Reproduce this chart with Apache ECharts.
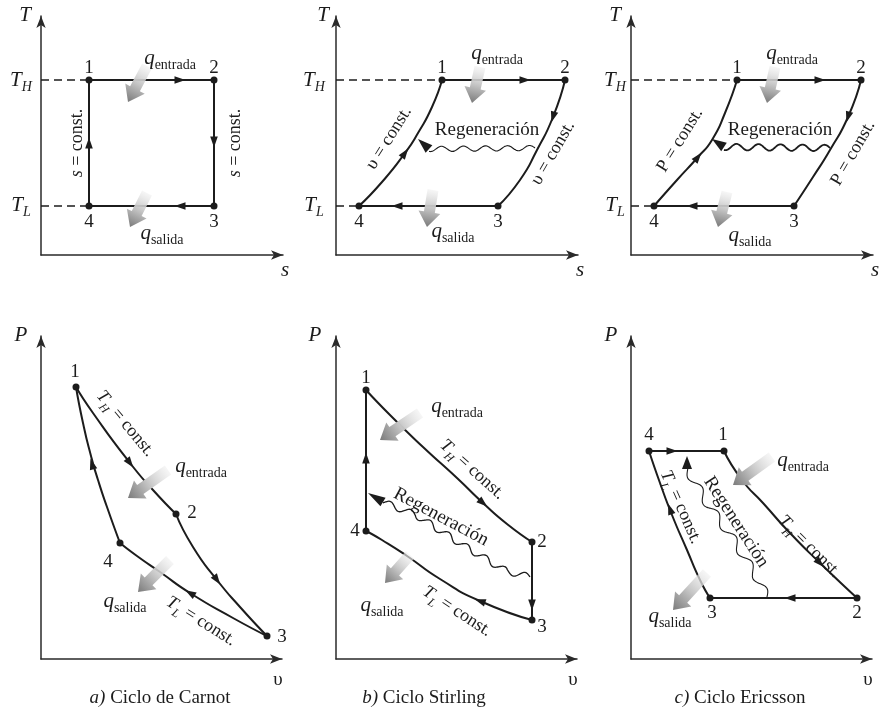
<!DOCTYPE html>
<html>
<head>
<meta charset="utf-8">
<script src="https://cdn.jsdelivr.net/npm/echarts@6/dist/echarts.min.js"></script>
<style>
  html, body { margin: 0; background: #fff; }
  #main { width: 880px; height: 711px; }
</style>
</head>
<body>
<div id="main"></div>
<script>
var FONT = '"Liberation Serif", "DejaVu Serif", serif';
var INK = '#1c1c1c';

// ---- a) Carnot, T-s ----
var carnotTsStates = [[4.8, 17.5], [17.3, 17.5], [17.3, 4.9], [4.8, 4.9]];
var carnotTsPaths = [
    [[4.8, 17.5], [17.3, 17.5]],
    [[17.3, 17.5], [17.3, 4.9]],
    [[17.3, 4.9], [4.8, 4.9]],
    [[4.8, 4.9], [4.8, 17.5]]
];
var carnotTsGuides = [[[0, 17.5], [4.8, 17.5]], [[0, 4.9], [4.8, 4.9]]];
var carnotTsArrows = [
    [[12.9, 17.5], [13.9, 17.5]], [[17.3, 12.3], [17.3, 11.3]],
    [[14.9, 4.9], [13.9, 4.9]], [[4.8, 10.2], [4.8, 11.2]]
];
var carnotTsHeat = [[[10.6, 18.9], [8.7, 15.3]], [[10.6, 6.2], [8.9, 2.8]]];
var carnotTsLabels = [
    [-1.6, 24.0, 'T'], [-2.0, 17.3, 'TH'], [-2.0, 4.8, 'TL'], [24.4, -1.5, 's'],
    [4.8, 18.7, 'n1'], [17.3, 18.7, 'n2'], [17.3, 3.3, 'n3'], [4.8, 3.3, 'n4'],
    [12.9, 19.5, 'qin'], [12.1, 2.0, 'qout'],
    [3.6, 11.2, 'sConst', 90], [19.4, 11.2, 'sConst', 90]
];

// ---- b) Stirling, T-s ----
var stirlingTsStates = [[10.6, 17.5], [22.9, 17.5], [16.2, 4.9], [2.3, 4.9]];
var stirlingTsPaths = [
    [[10.6, 17.5], [22.9, 17.5]],
    [[22.9, 17.5], [21.7, 13.8], [20.1, 10.5], [18.4, 7.5], [16.2, 4.9]],
    [[16.2, 4.9], [2.3, 4.9]],
    [[2.3, 4.9], [4.6, 7.3], [6.9, 10.2], [8.2, 12.2], [9.6, 14.8], [10.6, 17.5]]
];
var stirlingTsGuides = [[[0, 17.5], [10.6, 17.5]], [[0, 4.9], [2.3, 4.9]]];
var stirlingTsArrows = [
    [[17.9, 17.5], [18.9, 17.5]], [[22.0, 14.8], [21.7, 13.8]],
    [[7.1, 4.9], [6.1, 4.9]], [[6.1, 9.1], [6.9, 10.2]]
];
var stirlingTsWaves = [{ path: [[19.9, 10.7], [9.3, 10.6]], tip: [8.2, 11.6] }];
var stirlingTsHeat = [[[14.4, 18.8], [13.6, 15.2]], [[9.7, 6.5], [9.1, 2.8]]];
var stirlingTsLabels = [
    [-1.3, 24.0, 'T'], [-2.2, 17.3, 'TH'], [-2.2, 4.8, 'TL'], [24.4, -1.5, 's'],
    [10.6, 18.7, 'n1'], [22.9, 18.7, 'n2'], [16.2, 3.3, 'n3'], [2.3, 3.3, 'n4'],
    [16.1, 20.0, 'qin'], [11.7, 2.2, 'qout'], [15.1, 12.5, 'regen'],
    [5.3, 11.7, 'vConst', 58], [21.7, 10.2, 'vConst', 60]
];

// ---- c) Ericsson, T-s ----
var ericssonTsStates = [[10.6, 17.5], [23.0, 17.5], [16.3, 4.9], [2.3, 4.9]];
var ericssonTsPaths = [
    [[10.6, 17.5], [23.0, 17.5]],
    [[23.0, 17.5], [21.7, 13.8], [19.9, 10.5], [18.2, 7.8], [16.3, 4.9]],
    [[16.3, 4.9], [2.3, 4.9]],
    [[2.3, 4.9], [4.6, 7.5], [6.7, 9.8], [8.1, 11.5], [9.4, 14.2], [10.6, 17.5]]
];
var ericssonTsGuides = [[[0, 17.5], [10.6, 17.5]], [[0, 4.9], [2.3, 4.9]]];
var ericssonTsArrows = [
    [[17.9, 17.5], [18.9, 17.5]], [[22.0, 14.8], [21.7, 13.8]],
    [[7.1, 4.9], [6.1, 4.9]], [[5.9, 8.8], [6.7, 9.8]]
];
var ericssonTsWaves = [{ path: [[19.9, 10.7], [9.3, 10.8]], tip: [8.1, 11.6] }];
var ericssonTsHeat = [[[14.4, 18.8], [13.6, 15.2]], [[9.6, 6.3], [8.7, 2.8]]];
var ericssonTsLabels = [
    [-1.6, 24.0, 'T'], [-1.6, 17.3, 'TH'], [-1.6, 4.8, 'TL'], [24.4, -1.5, 's'],
    [10.6, 18.7, 'n1'], [23.0, 18.7, 'n2'], [16.3, 3.3, 'n3'], [2.3, 3.3, 'n4'],
    [16.1, 20.0, 'qin'], [11.9, 1.8, 'qout'], [14.9, 12.5, 'regen'],
    [4.9, 11.5, 'PConst', 58], [22.2, 10.2, 'PConst', 60]
];

// ---- a) Carnot, P-v ----
var carnotPvStates = [[3.5, 27.2], [13.5, 14.5], [22.6, 2.3], [7.9, 11.6]];
var carnotPvPaths = [
    [[3.5, 27.2], [5.2, 24.6], [8.9, 19.6], [11.2, 16.9], [13.5, 14.5]],
    [[13.5, 14.5], [15.2, 11.2], [17.6, 7.9], [19.9, 5.2], [22.6, 2.3]],
    [[22.6, 2.3], [19.2, 4.1], [14.9, 6.6], [11.9, 8.7], [9.6, 10.3], [7.9, 11.6]],
    [[7.9, 11.6], [6.6, 15.2], [5.7, 17.9], [5.0, 20.3], [4.2, 23.6], [3.5, 27.2]]
];
var carnotPvArrows = [
    [[8.3, 20.4], [8.9, 19.6]], [[17.1, 8.6], [17.6, 7.9]],
    [[15.9, 6.0], [14.9, 6.6]], [[5.4, 18.5], [5.1, 19.5]]
];
var carnotPvHeat = [[[12.7, 18.9], [8.7, 16.1]], [[12.9, 9.9], [9.7, 6.7]]];
var carnotPvLabels = [
    [-2.0, 32.4, 'P'], [23.7, -2.1, 'v'],
    [3.4, 28.7, 'n1'], [15.1, 14.6, 'n2'], [24.1, 2.2, 'n3'], [6.7, 9.7, 'n4'],
    [16.0, 19.1, 'qin'], [8.4, 5.6, 'qout'],
    [8.3, 23.4, 'THconst', -50], [15.9, 3.6, 'TLconst', -32]
];

// ---- b) Stirling, P-v ----
var stirlingPvStates = [[3.0, 26.9], [19.6, 11.7], [19.6, 3.9], [3.0, 12.8]];
var stirlingPvPaths = [
    [[3.0, 26.9], [5.4, 24.4], [8.7, 21.2], [12.1, 18.1], [14.7, 15.6], [17.1, 13.5], [19.6, 11.7]],
    [[19.6, 11.7], [19.6, 3.9]],
    [[19.6, 3.9], [14.4, 5.8], [10.4, 8.0], [7.1, 10.3], [4.6, 11.9], [3.0, 12.8]],
    [[3.0, 12.8], [3.0, 26.9]]
];
var stirlingPvArrows = [
    [[13.9, 16.3], [14.7, 15.6]], [[19.6, 6.4], [19.6, 5.4]],
    [[15.4, 5.45], [14.4, 5.8]], [[3.0, 19.1], [3.0, 20.1]]
];
var stirlingPvWaves = [{ path: [[19.4, 8.2], [17.0, 8.8], [13.0, 11.2], [8.0, 14.4], [4.7, 15.7]], tip: [3.2, 16.6] }];
var stirlingPvHeat = [[[8.4, 24.6], [4.4, 21.9]], [[7.4, 10.4], [4.9, 7.6]]];
var stirlingPvLabels = [
    [-2.1, 32.4, 'P'], [23.7, -2.1, 'v'],
    [3.0, 28.1, 'n1'], [20.6, 11.7, 'n2'], [20.6, 3.2, 'n3'], [1.9, 12.8, 'n4'],
    [12.1, 25.1, 'qin'], [4.6, 5.2, 'qout'],
    [13.5, 18.8, 'THconst', -42], [12.0, 4.6, 'TLconst', -33], [10.5, 14.2, 'regen', -28]
];

// ---- c) Ericsson, P-v ----
var ericssonPvStates = [[9.3, 20.8], [22.6, 6.1], [7.9, 6.1], [1.8, 20.8]];
var ericssonPvPaths = [
    [[9.3, 20.8], [11.1, 17.9], [13.2, 15.6], [15.9, 12.6], [18.9, 9.6], [22.6, 6.1]],
    [[22.6, 6.1], [7.9, 6.1]],
    [[7.9, 6.1], [6.9, 7.9], [5.6, 10.9], [4.1, 14.4], [2.9, 17.6], [1.8, 20.8]],
    [[1.8, 20.8], [9.3, 20.8]]
];
var ericssonPvArrows = [
    [[18.2, 10.3], [18.9, 9.6]], [[16.9, 6.1], [15.9, 6.1]],
    [[4.25, 14.0], [3.9, 15.0]], [[3.1, 20.8], [4.1, 20.8]]
];
var ericssonPvWaves = [{ path: [[13.6, 6.2], [12.4, 8.5], [10.2, 12.0], [7.6, 15.6], [5.6, 19.0]], tip: [5.6, 20.3] }];
var ericssonPvHeat = [[[14.1, 20.2], [10.2, 17.4]], [[7.6, 8.6], [4.2, 4.9]]];
var ericssonPvLabels = [
    [-2.0, 32.4, 'P'], [23.7, -2.1, 'v'],
    [1.8, 22.4, 'n4'], [9.2, 22.4, 'n1'], [22.6, 4.6, 'n2'], [8.1, 4.6, 'n3'],
    [17.2, 19.7, 'qin'], [3.9, 4.1, 'qout'],
    [17.7, 11.1, 'THconst', -45], [4.8, 15.1, 'TLconst', -66], [10.5, 13.7, 'regen', -57]
];

var captions = ['{i|a)} Ciclo de Carnot', '{i|b)} Ciclo Stirling', '{i|c)} Ciclo Ericsson'];

// rich text pieces
function tok(size, italic, padTop) {
    return {
        fontFamily: FONT, fontSize: size, fontStyle: italic ? 'italic' : 'normal',
        fill: INK, verticalAlign: 'top', padding: [padTop || 0, 0, 0, 0]
    };
}
var RICH = {
    it: tok(21, true), rm: tok(19, false), c: tok(18, false), ci: tok(18, true),
    sub: tok(14, true, 11), subc: tok(12, true, 10), subq: tok(14, false, 11)
};
var TEXTS = {
    T: '{it|T}', TH: '{it|T}{sub|H}', TL: '{it|T}{sub|L}', s: '{it|s}', P: '{it|P}', v: '{rm|υ}',
    n1: '{rm|1}', n2: '{rm|2}', n3: '{rm|3}', n4: '{rm|4}',
    qin: '{it|q}{subq|entrada}', qout: '{it|q}{subq|salida}',
    sConst: '{ci|s}{c| = const.}', vConst: '{c|υ = const.}', PConst: '{c|P = const.}',
    THconst: '{ci|T}{subc|H}{c| = const.}', TLconst: '{ci|T}{subc|L}{c| = const.}',
    regen: '{rm|Regeneración}'
};

var panels = [
    { left: 41, top: 16, states: carnotTsStates, paths: carnotTsPaths, guides: carnotTsGuides, arrows: carnotTsArrows, waves: [], heat: carnotTsHeat, labels: carnotTsLabels },
    { left: 336, top: 16, states: stirlingTsStates, paths: stirlingTsPaths, guides: stirlingTsGuides, arrows: stirlingTsArrows, waves: stirlingTsWaves, wave: [2.6, 22, 1.1], heat: stirlingTsHeat, labels: stirlingTsLabels },
    { left: 631, top: 16, states: ericssonTsStates, paths: ericssonTsPaths, guides: ericssonTsGuides, arrows: ericssonTsArrows, waves: ericssonTsWaves, wave: [3.2, 22, 1.8], heat: ericssonTsHeat, labels: ericssonTsLabels },
    { left: 41, top: 336, states: carnotPvStates, paths: carnotPvPaths, guides: [], arrows: carnotPvArrows, waves: [], heat: carnotPvHeat, labels: carnotPvLabels },
    { left: 336, top: 336, states: stirlingPvStates, paths: stirlingPvPaths, guides: [], arrows: stirlingPvArrows, waves: stirlingPvWaves, wave: [3.2, 22, 1.3], heat: stirlingPvHeat, labels: stirlingPvLabels },
    { left: 631, top: 336, states: ericssonPvStates, paths: ericssonPvPaths, guides: [], arrows: ericssonPvArrows, waves: ericssonPvWaves, wave: [4, 30, 1.1], heat: ericssonPvHeat, labels: ericssonPvLabels }
];

function renderHead(params, api) {
    var a = api.coord([api.value(0), api.value(1)]);
    var b = api.coord([api.value(2), api.value(3)]);
    var dx = b[0] - a[0], dy = b[1] - a[1], len = Math.hypot(dx, dy) || 1;
    var ux = dx / len, uy = dy / len, L = 11, W = 3.8;
    var tip = [b[0] + ux * L / 2, b[1] + uy * L / 2];
    var base = [b[0] - ux * L / 2, b[1] - uy * L / 2];
    return {
        type: 'polygon',
        shape: { points: [tip, [base[0] - uy * W, base[1] + ux * W], [base[0] + uy * W, base[1] - ux * W]] },
        style: { fill: INK }
    };
}

function renderHeat(params, api) {
    var a = api.coord([api.value(0), api.value(1)]);
    var b = api.coord([api.value(2), api.value(3)]);
    var dx = b[0] - a[0], dy = b[1] - a[1], len = Math.hypot(dx, dy) || 1;
    var ux = dx / len, uy = dy / len, nx = -uy, ny = ux;
    var hl = 15, sw = 5.5, hw = 11;
    var neck = [b[0] - ux * hl, b[1] - uy * hl];
    function p(o, k) { return [o[0] + nx * k, o[1] + ny * k]; }
    return {
        type: 'polygon',
        shape: { points: [p(a, sw), p(neck, sw), p(neck, hw), b, p(neck, -hw), p(neck, -sw), p(a, -sw)] },
        style: {
            fill: {
                type: 'linear', x: a[0], y: a[1], x2: b[0], y2: b[1], global: true,
                colorStops: [
                    { offset: 0, color: 'rgba(240,240,240,0.6)' },
                    { offset: 0.5, color: '#c4c4c4' },
                    { offset: 1, color: '#7a7a7a' }
                ]
            }
        }
    };
}

function waveRenderer(waves, cfg) {
    var amp = cfg[0], period = cfg[1], lw = cfg[2];
    return function (params, api) {
        var w = waves[params.dataIndex];
        var pts = w.path.map(function (q) { return api.coord(q); });
        var tip = api.coord(w.tip);
        var cum = [0], i;
        for (i = 1; i < pts.length; i++) {
            cum.push(cum[i - 1] + Math.hypot(pts[i][0] - pts[i - 1][0], pts[i][1] - pts[i - 1][1]));
        }
        var total = cum[cum.length - 1], out = [], j = 0;
        for (var d = 0; d <= total; d += 1) {
            while (j < pts.length - 2 && cum[j + 1] < d) j++;
            var seg = cum[j + 1] - cum[j] || 1, t = (d - cum[j]) / seg;
            var ux = (pts[j + 1][0] - pts[j][0]) / seg, uy = (pts[j + 1][1] - pts[j][1]) / seg;
            var off = amp * Math.sin(2 * Math.PI * d / period);
            out.push([pts[j][0] + (pts[j + 1][0] - pts[j][0]) * t - uy * off,
                      pts[j][1] + (pts[j + 1][1] - pts[j][1]) * t + ux * off]);
        }
        var end = pts[pts.length - 1];
        var hx = tip[0] - end[0], hy = tip[1] - end[1], hl = Math.hypot(hx, hy) || 1;
        var nx = -hy / hl * 5, ny = hx / hl * 5;
        return {
            type: 'group',
            children: [
                { type: 'polyline', shape: { points: out, smooth: 0.3 }, style: { stroke: INK, lineWidth: lw, fill: null } },
                { type: 'polygon', shape: { points: [tip, [end[0] + nx, end[1] + ny], [end[0] - nx, end[1] - ny]] }, style: { fill: INK } }
            ]
        };
    };
}

function labelRenderer(labels) {
    return function (params, api) {
        var l = labels[params.dataIndex];
        var pt = api.coord([api.value(0), api.value(1)]);
        return {
            type: 'text', x: pt[0], y: pt[1], rotation: (l[3] || 0) * Math.PI / 180,
            style: { text: TEXTS[l[2]], rich: RICH, align: 'center', verticalAlign: 'middle', fill: INK }
        };
    };
}

function axisLine() {
    return {
        show: true, onZero: false, symbol: ['none', 'arrow'], symbolSize: [7, 12],
        lineStyle: { color: '#2a2a2a', width: 1.5 }
    };
}

var grids = [], xAxes = [], yAxes = [], series = [];
panels.forEach(function (p, k) {
    var topRow = p.top < 100;
    grids.push({ left: p.left, top: p.top, width: topRow ? 242 : 241, height: topRow ? 239 : 323 });
    var common = { gridIndex: k, type: 'value', min: 0, axisLine: axisLine(), axisTick: { show: false }, axisLabel: { show: false }, splitLine: { show: false } };
    xAxes.push(Object.assign({ max: topRow ? 24.2 : 24.1 }, common));
    yAxes.push(Object.assign({ max: topRow ? 23.9 : 32.3 }, common));
    var ax = { xAxisIndex: k, yAxisIndex: k, silent: true };

    p.guides.forEach(function (g) {
        series.push(Object.assign({ type: 'line', data: g, symbol: 'none', lineStyle: { color: INK, width: 1.3, type: [8, 5] } }, ax));
    });
    p.paths.forEach(function (seg) {
        series.push(Object.assign({ type: 'line', data: seg, smooth: 0.6, symbol: 'none', lineStyle: { color: INK, width: 2 } }, ax));
    });
    series.push(Object.assign({ type: 'custom', clip: false, z: 3, renderItem: renderHead,
        data: p.arrows.map(function (a) { return [a[0][0], a[0][1], a[1][0], a[1][1]]; }) }, ax));
    if (p.waves.length) {
        series.push(Object.assign({ type: 'custom', clip: false, z: 3, renderItem: waveRenderer(p.waves, p.wave),
            data: p.waves.map(function (w) { return w.path[0]; }) }, ax));
    }
    series.push(Object.assign({ type: 'scatter', data: p.states, symbolSize: 7, z: 4, itemStyle: { color: INK, opacity: 1 } }, ax));
    series.push(Object.assign({ type: 'custom', clip: false, z: 5, renderItem: renderHeat,
        data: p.heat.map(function (h) { return [h[0][0], h[0][1], h[1][0], h[1][1]]; }) }, ax));
    series.push(Object.assign({ type: 'custom', clip: false, z: 6, renderItem: labelRenderer(p.labels),
        data: p.labels.map(function (l) { return [l[0], l[1]]; }) }, ax));
});

var captionX = [160, 424, 740];
var myChart = echarts.init(document.getElementById('main'));
myChart.setOption({
    animation: false,
    backgroundColor: '#fff',
    grid: grids,
    xAxis: xAxes,
    yAxis: yAxes,
    series: series,
    graphic: captions.map(function (c, i) {
        return {
            type: 'text', x: captionX[i], y: 698, silent: true,
            style: {
                text: c, align: 'center', verticalAlign: 'middle', fill: INK,
                font: '19px ' + FONT,
                rich: { i: { fontFamily: FONT, fontSize: 19, fontStyle: 'italic', fill: INK } }
            }
        };
    })
});
</script>
</body>
</html>
